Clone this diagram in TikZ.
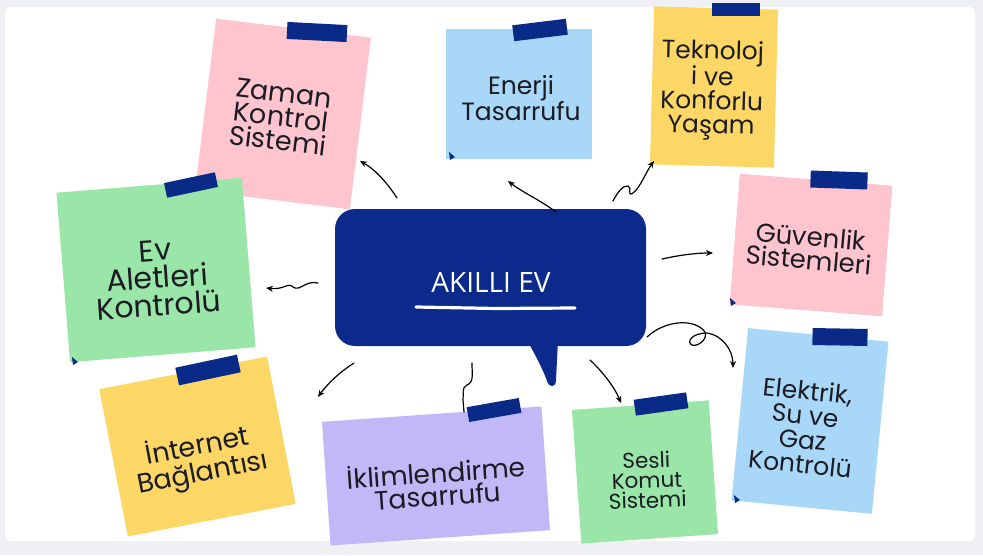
\documentclass[tikz,border=0pt]{standalone}
\usepackage{fontspec}
\usetikzlibrary{arrows.meta}
\newfontfamily\notefont{Poppins}
\newfontfamily\titlefont{Open Sans}
\definecolor{bg}{HTML}{EEF0F3}
\definecolor{navy}{HTML}{0B2A8C}
\definecolor{tapec}{HTML}{0A2A88}
\definecolor{pinkn}{HTML}{FFC5CF}
\definecolor{bluen}{HTML}{A9D7F8}
\definecolor{yelln}{HTML}{FDD766}
\definecolor{greenn}{HTML}{99E6A8}
\definecolor{lavn}{HTML}{C2B8F7}
\definecolor{ink}{HTML}{1B1B24}
\begin{document}
\begin{tikzpicture}[x=1pt,y=-1pt,
  note/.style={inner sep=0pt, outer sep=0pt, draw=none},
  tape/.style={fill=tapec, inner sep=0pt, outer sep=0pt, draw=none},
  ntext/.style={align=center, text=ink, inner sep=0pt},
  link/.style={draw=black, line width=1.2pt, -{Stealth[length=7pt,width=6pt]}, line cap=round},
  plainlink/.style={draw=black, line width=1.2pt, line cap=round}
]
\useasboundingbox (0,0) rectangle (983,555);
\fill[bg] (0,0) rectangle (983,555);
\fill[white, rounded corners=6pt] (5,7) rectangle (975,541);

% notes
\node[note, fill=pinkn, minimum width=156, minimum height=173, rotate=-7] (zaman) at (283,114) {};
\node[note, fill=bluen, minimum width=146, minimum height=130] (enerji) at (519,94) {};
\node[note, fill=yelln, minimum width=124, minimum height=158, rotate=-1.5] (tekno) at (714,87) {};
\node[note, fill=pinkn, minimum width=153, minimum height=131, rotate=-4.5] (guven) at (811,245) {};
\node[note, fill=bluen, minimum width=141, minimum height=173, rotate=-5.5] (elek) at (810,421) {};
\node[note, fill=greenn, minimum width=137, minimum height=134, rotate=4] (sesli) at (645,472) {};
\node[note, fill=lavn, minimum width=220, minimum height=124, rotate=4] (iklim) at (436,476) {};
\node[note, fill=greenn, minimum width=186, minimum height=170, rotate=4.6] (ev) at (156,270) {};
\node[tape, minimum width=52, minimum height=15, rotate=12] (tapeev) at (191,185) {};
\node[note, fill=yelln, minimum width=171, minimum height=150, rotate=11] (inter) at (197.5,446.5) {};

% curled corners
\fill[tapec] (449,152) -- (455,157) -- (450,160) -- cycle;
\fill[tapec] (730,298) -- (736,303) -- (731,306) -- cycle;
\fill[tapec] (734,495) -- (740,500) -- (735,503) -- cycle;
\fill[tapec] (72,357) -- (78,362) -- (73,365) -- cycle;

% tapes
\node[tape, minimum width=60, minimum height=17, rotate=-3] (tapezaman) at (317,32) {};
\node[tape, minimum width=54, minimum height=16, rotate=7] (tapeenerji) at (540,30) {};
\node[tape, minimum width=48, minimum height=13] (tapetekno) at (736,9) {};
\node[tape, minimum width=57, minimum height=17, rotate=-2] (tapeguven) at (839,180) {};
\node[tape, minimum width=55, minimum height=17, rotate=-1] (tapeelek) at (840,337) {};
\node[tape, minimum width=53, minimum height=16, rotate=8] (tapesesli) at (661,404) {};
\node[tape, minimum width=53, minimum height=15, rotate=10] (tapeiklim) at (494,410) {};
\node[tape, minimum width=63, minimum height=18, rotate=12] (tapeinter) at (208,370) {};

% note texts
\node[ntext, font=\notefont\fontsize{27}{24}\selectfont, rotate=-7] (zamant) at (281,117) {Zaman\\Kontrol\\Sistemi};
\node[ntext, font=\notefont\fontsize{25}{22}\selectfont] (enerjit) at (521,98) {Enerji\\Tasarrufu};
\node[ntext, font=\notefont\fontsize{25}{24}\selectfont, rotate=-1.5] (teknot) at (712,90) {Teknoloj\\i ve\\Konforlu\\Yaşam};
\node[ntext, font=\notefont\fontsize{26}{23}\selectfont, rotate=-5] (guvent) at (810,248) {Güvenlik\\Sistemleri};
\node[ntext, font=\notefont\fontsize{25}{24.5}\selectfont, rotate=-6] (elekt) at (804,427) {Elektrik,\\Su ve\\Gaz\\Kontrolü};
\node[ntext, font=\notefont\fontsize{21.5}{20}\selectfont, rotate=2] (seslit) at (647,480) {Sesli\\Komut\\Sistemi};
\node[ntext, font=\notefont\fontsize{26.5}{23}\selectfont, rotate=4] (iklimt) at (437,483) {İklimlendirme\\Tasarrufu};
\node[ntext, font=\notefont\fontsize{27}{27}\selectfont, rotate=11] (intert) at (200,460) {İnternet\\Bağlantısı};
\node[ntext, font=\notefont\fontsize{30}{27.5}\selectfont, rotate=4] (evt) at (157,278) {Ev\\Aletleri\\Kontrolü};

% central bubble
\node[fill=navy, rounded corners=20pt, minimum width=311, minimum height=137, inner sep=0pt] (hub) at (490.5,277.5) {};
\fill[navy] (527,340) .. controls (537,358) and (544,372) .. (547,381) .. controls (549,388) and (556,388) .. (556,380) -- (558,340) -- cycle;
\node[text=white, inner sep=0pt, font=\titlefont\fontsize{28}{28}\selectfont] (title) at (491,282) {AKILLI EV};
\draw[white, line width=3.2pt, line cap=round] (416,307) -- (496,308.5) -- (575,308);

% connector end points
\coordinate (s1) at (397,198); \coordinate (e1) at (360,161);
\coordinate (s2) at (556,212); \coordinate (e2) at (508,181);
\coordinate (s3) at (613,201); \coordinate (e3) at (654,161);
\coordinate (s4) at (662,259); \coordinate (e4) at (713,253);
\coordinate (s5) at (647,337); \coordinate (e5) at (733,368);
\coordinate (s6) at (590,360); \coordinate (e6) at (621,403);
\coordinate (s7) at (472,363); \coordinate (e7) at (464,412);
\coordinate (s8) at (354,363); \coordinate (e8) at (318,397);
\coordinate (s9) at (318,283); \coordinate (e9) at (266,288);

\draw[link] (s1) .. controls (388,184) and (376,170) .. (e1);
\draw[link] (s2) .. controls (540,200) and (522,192) .. (e2);
\draw[link] (s3) .. controls (618,191) and (624,185) .. (628,186) .. controls (633,188) and (626,197) .. (633,193) .. controls (640,188) and (646,172) .. (e3);
\draw[link] (s4) .. controls (680,255) and (696,253) .. (e4);
\draw[link] (s5) .. controls (665,320) and (695,318) .. (705,332) .. controls (708,340) and (697,347) .. (692,345) .. controls (686,342) and (692,333) .. (707,333) .. controls (722,335) and (733,350) .. (e5);
\draw[link] (s6) .. controls (603,372) and (615,388) .. (e6);
\draw[plainlink] (s7) .. controls (472,375) and (474,382) .. (467,385) .. controls (461,388) and (464,394) .. (463,400) -- (e7);
\draw[link] (s8) .. controls (340,372) and (328,383) .. (e8);
\draw[link] (s9) .. controls (305,280) and (300,292) .. (293,287) .. controls (288,282) and (284,290) .. (e9);
\end{tikzpicture}
\end{document}
